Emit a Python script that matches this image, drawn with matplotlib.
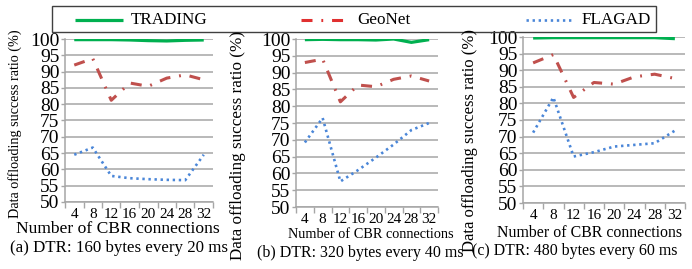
import matplotlib
matplotlib.use('Agg')
import matplotlib.pyplot as plt
from matplotlib.lines import Line2D
from matplotlib.patches import Rectangle
import numpy as np

plt.rcParams['font.family'] = ['Liberation Serif', 'DejaVu Serif']

conns = [4, 8, 12, 16, 20, 24, 28, 32]
y_ticks = [50, 55, 60, 65, 70, 75, 80, 85, 90, 95, 100]

trading_a = [99.8, 99.8, 99.8, 99.7, 99.5, 99.4, 99.6, 99.7]
geonet_a = [92.0, 94.0, 81.2, 86.5, 85.5, 88.0, 89.0, 87.5]
flagad_a = [64.5, 66.7, 58.0, 57.3, 57.0, 56.8, 56.7, 64.5]

trading_b = [99.8, 99.9, 99.8, 99.8, 99.7, 100.0, 99.0, 99.8]
geonet_b = [93.0, 94.0, 81.3, 86.3, 85.8, 88.0, 89.0, 87.5]
flagad_b = [69.2, 76.5, 57.6, 61.0, 64.7, 68.6, 72.9, 75.0]

trading_c = [99.7, 99.8, 99.8, 99.8, 99.8, 99.8, 99.8, 99.5]
geonet_c = [92.2, 94.7, 81.8, 86.3, 85.8, 88.0, 88.8, 87.5]
flagad_c = [71.2, 81.8, 64.0, 65.3, 67.0, 67.5, 68.0, 71.8]

series_names = ['TRADING', 'GeoNet', 'FLAGAD']
captions = ['(a) DTR: 160 bytes every 20 ms',
            '(b) DTR: 320 bytes every 40 ms',
            '(c) DTR: 480 bytes every 60 ms']

W, H = 692, 269
GREEN = '#00B050'
RED = '#C0504D'
BLUE = '#4A86D8'
GRID = '#A6A6A6'
STYLES = [dict(color=GREEN, lw=2.3, solid_capstyle='butt'),
          dict(color=RED, lw=2.2, dashes=(3.6, 2.9, 0.6, 2.9)),
          dict(color=BLUE, lw=1.9, dashes=(0.9, 1.4))]


def fx(x):
    return x / W


def fy(y):
    return 1 - y / H


def draw_panel(ax, trading, geonet, flagad):
    for vals, st in zip([trading, geonet, flagad], STYLES):
        ax.plot(conns, vals, **st)
    ax.set_xlim(2, 34)
    ax.set_ylim(50, 100)
    ax.set_yticks(y_ticks)
    ax.set_xticks(conns)
    ax.set_xticks(np.arange(2, 35, 4), minor=True)  # category boundaries
    ax.tick_params(axis='x', which='major', length=0, labelsize=11, pad=4)
    ax.tick_params(axis='x', which='minor', length=4, color=GRID, width=1)
    ax.tick_params(axis='y', length=3, color=GRID, width=1, labelsize=14, pad=1)
    ax.grid(axis='y', color=GRID, lw=1.1)
    ax.set_axisbelow(True)
    for s in ['top', 'right']:
        ax.spines[s].set_visible(False)
    for s in ['left', 'bottom']:
        ax.spines[s].set_color(GRID)
        ax.spines[s].set_linewidth(1.1)


fig = plt.figure(figsize=(W / 100, H / 100), dpi=100)

boxes = [(65, 39, 213, 202), (296, 39, 438, 207), (523, 37, 685, 203)]
data = [(trading_a, geonet_a, flagad_a),
        (trading_b, geonet_b, flagad_b),
        (trading_c, geonet_c, flagad_c)]
# x label centre (pixels) and font size per panel
xlab_pos = [(117.5, 229, 12.6), (370.5, 234, 10.3), (590, 233, 11.4)]
for (x0, y0, x1, y1), (t, g, f), (lx, ly, ls) in zip(boxes, data, xlab_pos):
    ax = fig.add_axes([fx(x0), fy(y1), (x1 - x0) / W, (y1 - y0) / H])
    draw_panel(ax, t, g, f)
    ax.set_xlabel('Number of CBR connections', fontsize=ls)
    ax.xaxis.label.set_verticalalignment('center')
    ax.xaxis.set_label_coords((lx - x0) / (x1 - x0), (y1 - ly) / (y1 - y0))

# y labels and captions, placed in pixel coordinates
ylab_pos = [(15, 124, 10.2), (238.5, 145, 12.3), (470.5, 140, 12.0)]
cap_pos = [(119.5, 248, 12.2), (360.5, 253, 11.5), (575, 251, 11.4)]
for i in range(3):
    x, y, s = ylab_pos[i]
    fig.text(fx(x), fy(y), 'Data offloading success ratio (%)', rotation=90,
             ha='center', va='center', fontsize=s)
    x, y, s = cap_pos[i]
    fig.text(fx(x), fy(y), captions[i], ha='center', va='center', fontsize=s)

# legend drawn by hand across the top
fig.patches.append(Rectangle((fx(52), fy(32)), 604 / W, 25.5 / H, transform=fig.transFigure,
                             fill=False, edgecolor='#404040', lw=1.0))
leg_x = [75, 301, 526]
for i, name in enumerate(series_names):
    st = dict(STYLES[i])
    if i == 1:
        st['color'] = '#E03030'
    fig.lines.append(Line2D([fx(leg_x[i]), fx(leg_x[i] + 48)], [fy(19.5), fy(19.5)],
                            transform=fig.transFigure, **st))
    fig.text(fx(leg_x[i] + 56), fy(19.5), name, ha='left', va='center', fontsize=12.3)

fig.savefig('out.png', dpi=100)
